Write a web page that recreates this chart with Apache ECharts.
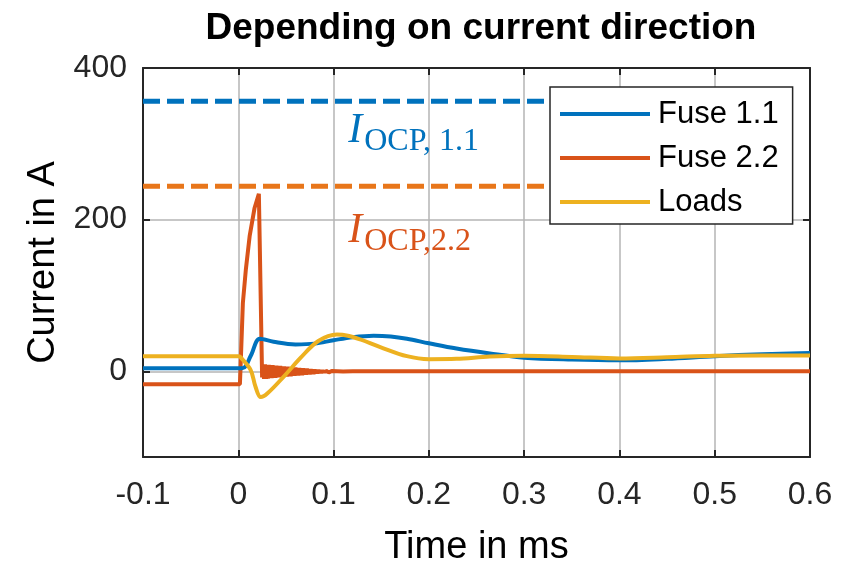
<!DOCTYPE html>
<html>
<head>
<meta charset="utf-8">
<script src="https://cdn.jsdelivr.net/npm/echarts@6/dist/echarts.min.js"></script>
<style>html,body{margin:0;padding:0;background:#fff}#c{width:846px;height:564px}</style>
</head>
<body>
<div id="c"></div>
<script>
// ---- data ----
const titleText = 'Depending on current direction';
const xTicks = [-0.1, 0, 0.1, 0.2, 0.3, 0.4, 0.5, 0.6];
const yTicks = [0, 200, 400];

const tFuse11 = [-0.1, 0.004, 0.0129, 0.0226, 0.037, 0.06, 0.08, 0.1, 0.12, 0.142, 0.16, 0.177, 0.2, 0.229, 0.264, 0.3, 0.35, 0.4, 0.45, 0.5, 0.55, 0.6];
const vFuse11 = [4, 4, 20, 43, 39, 35.5, 36.5, 41, 45, 47, 46, 43, 37, 30, 23.5, 18, 15.5, 14.5, 16.5, 20, 22.5, 24];

const tFuse22 = [-0.1, 0.0017, 0.0023, 0.0048, 0.008, 0.012, 0.017, 0.0216, 0.025,
  0.026, 0.027, 0.028, 0.029, 0.030, 0.031, 0.032, 0.033, 0.034, 0.035,
  0.036, 0.037, 0.038, 0.039, 0.040, 0.041, 0.042, 0.043, 0.044, 0.045,
  0.046, 0.047, 0.048, 0.049, 0.050, 0.051, 0.052, 0.053, 0.054, 0.055,
  0.056, 0.057, 0.058, 0.059, 0.060, 0.061, 0.062, 0.063, 0.064, 0.065,
  0.066, 0.067, 0.068, 0.069, 0.070, 0.071, 0.072, 0.073, 0.074, 0.075,
  0.076, 0.077, 0.078, 0.079, 0.080, 0.081, 0.082, 0.083, 0.084, 0.085,
  0.086, 0.087, 0.088, 0.089, 0.090, 0.091, 0.092, 0.093, 0.094, 0.095,
  0.096, 0.097, 0.098, 0.099, 0.100, 0.110, 0.120, 0.140, 0.6];
const vFuse22 = [-17, -17, 2, 90, 135, 179, 215, 234, -8,
  9, -10, 9, -10, 8.5, -9.5, 8.5, -9, 8, -9,
  8, -8.5, 7.5, -8.5, 7.5, -8, 7, -8, 7, -7.5,
  6.5, -7.5, 6.5, -7, 6, -7, 6, -6.5, 5.5, -6.5,
  5.5, -6, 5, -6, 5, -5.5, 4.5, -5.5, 4.5, -5,
  4, -5, 4, -4.5, 3.5, -4.5, 3.5, -4, 3, -4,
  3, -3.5, 2.5, -3.5, 2.5, -3, 2, -3, 2, -2.5,
  1.5, -2.5, 1.5, -2, 1, -2, 1, -1.5, 0.5, -1.5,
  0.5, -1, 0.5, -1, 0.5, -0.3, 0.2, 0, 0];

const tLoads = [-0.1, 0.0, 0.002, 0.0129, 0.018, 0.0236, 0.0307, 0.048, 0.0655, 0.084, 0.1035, 0.115, 0.128, 0.149, 0.177, 0.2, 0.229, 0.264, 0.3, 0.35, 0.4, 0.45, 0.5, 0.55, 0.6];
const vLoads = [20, 20, 19, 2, -20, -34, -29, -6.6, 18, 40, 48.5, 47, 42, 32, 20, 16, 16.5, 19.5, 20.5, 19, 17, 18.5, 20.5, 21, 21];

const ocpLevels = [356, 244];          // I_OCP,1.1 and I_OCP,2.2
const ocpSpan = [-0.1, 0.33];          // x-extent of the dashed limit lines
const ocpLabelPos = [[0.1154, 313], [0.1154, 181]];

const seriesNames = ['Fuse 1.1', 'Fuse 2.2', 'Loads'];
const colors = ['#0072BD', '#D95319', '#EDB120'];
const ocpColors = ['#0072BD', '#E8761A'];

const zip = (t, v) => t.map((x, i) => [x, v[i]]);

const axisColor = '#262626';
const gridColor = '#b4b4b4';
const font = 'Liberation Sans, Arial, Helvetica, sans-serif';
const serif = 'Liberation Serif, serif';
const Y_MIN = -113, Y_MAX = 400;

const chart = echarts.init(document.getElementById('c'), null, {renderer: 'canvas'});

const fmtX = v => {
  const r = Math.round(v * 10) / 10;
  return r === 0 ? '0' : r.toFixed(1);
};
const fmtY = v => (yTicks.indexOf(Math.round(v)) >= 0 && Math.abs(v - Math.round(v)) < 1e-6) ? String(Math.round(v)) : '';

const richFor = c => ({
  i: {fontFamily: serif, fontStyle: 'italic', fontSize: 42, color: c, opacity: 1, verticalAlign: 'bottom', padding: [0, 2, 6, 0]},
  s: {fontFamily: serif, fontSize: 32, color: c, opacity: 1, verticalAlign: 'bottom'}
});

const option = {
  backgroundColor: '#fff',
  animation: false,
  title: {
    text: titleText,
    left: 476,
    top: 5,
    textAlign: 'center',
    textStyle: {fontFamily: font, fontWeight: 'bold', fontSize: 37, color: '#000'}
  },
  grid: {left: 143, right: 36, top: 68, bottom: 107, containLabel: false, outerBoundsMode: 'none'},
  legend: {
    data: seriesNames,
    orient: 'vertical',
    left: 550,
    top: 87,
    backgroundColor: '#fff',
    borderColor: axisColor,
    borderWidth: 1.5,
    borderRadius: 0,
    padding: [5, 14, 0, 10],
    itemGap: 0,
    itemWidth: 90,
    itemHeight: 4,
    icon: 'rect',
    textStyle: {fontFamily: font, fontSize: 31, color: '#000', lineHeight: 44, padding: [0, 0, 0, 3]}
  },
  xAxis: [{
    type: 'value', min: xTicks[0], max: xTicks[xTicks.length - 1], interval: 0.1,
    position: 'bottom',
    name: 'Time in ms', nameLocation: 'middle', nameGap: 72,
    nameTextStyle: {fontFamily: font, fontSize: 38, color: '#000'},
    axisLine: {show: true, onZero: false, lineStyle: {color: axisColor, width: 2}},
    axisTick: {show: true, inside: true, length: 7, lineStyle: {color: axisColor, width: 2}},
    axisLabel: {formatter: fmtX, margin: 22, fontFamily: font, fontSize: 32, color: axisColor, showMinLabel: true, showMaxLabel: true},
    splitLine: {show: true, lineStyle: {color: gridColor, width: 1.5}}
  }, {
    type: 'value', min: xTicks[0], max: xTicks[xTicks.length - 1], interval: 0.1,
    position: 'top',
    axisLine: {show: true, onZero: false, lineStyle: {color: axisColor, width: 2}},
    axisTick: {show: true, inside: true, length: 7, lineStyle: {color: axisColor, width: 2}},
    axisLabel: {show: false},
    splitLine: {show: false}
  }],
  yAxis: [{
    type: 'value', min: Y_MIN, max: Y_MAX, splitNumber: 3,
    position: 'left',
    name: 'Current in A', nameLocation: 'middle', nameGap: 80, nameRotate: 90,
    nameTextStyle: {fontFamily: font, fontSize: 38, color: '#000'},
    axisLine: {show: true, onZero: false, lineStyle: {color: axisColor, width: 2}},
    axisTick: {show: true, inside: true, length: 7, lineStyle: {color: axisColor, width: 2}},
    axisLabel: {formatter: fmtY, margin: 16, fontFamily: font, fontSize: 32, color: axisColor, showMinLabel: false},
    splitLine: {show: true, lineStyle: {color: gridColor, width: 1.5}}
  }, {
    type: 'value', min: Y_MIN, max: Y_MAX, splitNumber: 3,
    position: 'right',
    axisLine: {show: true, onZero: false, lineStyle: {color: axisColor, width: 2}},
    axisTick: {show: true, inside: true, length: 7, lineStyle: {color: axisColor, width: 2}},
    axisLabel: {show: false},
    splitLine: {show: false}
  }],
  series: [
    {
      name: 'ocp11', type: 'line', data: zip(ocpSpan, [ocpLevels[0], ocpLevels[0]]),
      showSymbol: false, silent: true, z: 1,
      lineStyle: {color: ocpColors[0], width: 5, type: [17, 7]}
    },
    {
      name: 'ocp22', type: 'line', data: zip(ocpSpan, [ocpLevels[1], ocpLevels[1]]),
      showSymbol: false, silent: true, z: 1,
      lineStyle: {color: ocpColors[1], width: 5, type: [17, 7]}
    },
    {
      name: seriesNames[0], type: 'line', data: zip(tFuse11, vFuse11), smooth: 0.35,
      showSymbol: false, color: colors[0], lineStyle: {width: 4, color: colors[0]}, z: 3
    },
    {
      name: seriesNames[2], type: 'line', data: zip(tLoads, vLoads), smooth: 0.35,
      showSymbol: false, color: colors[2], lineStyle: {width: 4, color: colors[2]}, z: 4
    },
    {
      name: seriesNames[1], type: 'line', data: zip(tFuse22, vFuse22),
      showSymbol: false, color: colors[1], lineStyle: {width: 4, color: colors[1]}, z: 2
    },
    {
      name: 'labels', type: 'scatter', symbolSize: 0, silent: true, z: 5,
      itemStyle: {opacity: 1},
      data: [
        {value: ocpLabelPos[0], label: {formatter: '{i|I}{s|OCP, 1.1}', rich: richFor(colors[0])}},
        {value: ocpLabelPos[1], label: {formatter: '{i|I}{s|OCP,2.2}', rich: richFor(colors[1])}}
      ],
      label: {show: true, position: 'right', distance: 0, opacity: 1}
    }
  ]
};
chart.setOption(option);
</script>
</body>
</html>
